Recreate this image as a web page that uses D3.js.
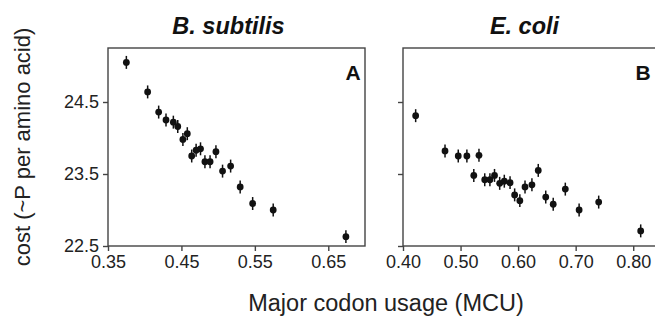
<!DOCTYPE html>
<html>
<head>
<meta charset="utf-8">
<script src="https://cdn.jsdelivr.net/npm/d3@7"></script>
<style>
  body { margin: 0; background: #fff; }
  svg { display: block; font-family: "Liberation Sans", Arial, sans-serif; }
  .axis path, .axis line { stroke: #444; stroke-width: 1.4; }
  .axis text { fill: #222; font-size: 18px; }
  .frame { fill: none; stroke: #444; stroke-width: 1.4; }
</style>
</head>
<body>
<svg id="chart" width="655" height="323"></svg>
<script>
// B. subtilis
const bsuMCU  = [0.375, 0.404, 0.419, 0.429, 0.439, 0.445, 0.452, 0.458, 0.464, 0.470, 0.476, 0.482, 0.489, 0.497, 0.506, 0.517, 0.530, 0.547, 0.575, 0.674];
const bsuCost = [25.05, 24.64, 24.36, 24.25, 24.22, 24.16, 23.98, 24.06, 23.75, 23.83, 23.85, 23.67, 23.67, 23.81, 23.54, 23.61, 23.32, 23.09, 23.00, 22.63];

// E. coli
const ecoMCU  = [0.422, 0.473, 0.496, 0.511, 0.523, 0.532, 0.542, 0.551, 0.559, 0.568, 0.576, 0.586, 0.594, 0.603, 0.612, 0.624, 0.635, 0.648, 0.661, 0.682, 0.706, 0.740, 0.813];
const ecoCost = [24.31, 23.82, 23.75, 23.75, 23.48, 23.76, 23.42, 23.42, 23.48, 23.37, 23.40, 23.38, 23.21, 23.13, 23.32, 23.35, 23.55, 23.18, 23.08, 23.29, 23.00, 23.11, 22.71];

const errHalf = 0.09;   // error bar half-length (cost units)

const yTicks  = [22.5, 23.5, 24.5];
const xTicksA = [0.35, 0.45, 0.55, 0.65];
const xTicksB = [0.40, 0.50, 0.60, 0.70, 0.80];

const panels = [
    { title: "B. subtilis", tag: "A", xs: bsuMCU, ys: bsuCost, domain: [0.35, 0.70], range: [108, 365], ticks: xTicksA, labels: true },
    { title: "E. coli",     tag: "B", xs: ecoMCU, ys: ecoCost, domain: [0.40, 0.85], range: [403, 662], ticks: xTicksB, labels: false },
];

const svg = d3.select("#chart");
const plotTop = 48, plotBottom = 246;

const y = d3.scaleLinear().domain([22.5, 25.25]).range([plotBottom, plotTop]);

panels.forEach((p) => {
    const x = d3.scaleLinear().domain(p.domain).range(p.range);
    const g = svg.append("g");

    // frame
    g.append("rect")
        .attr("class", "frame")
        .attr("x", p.range[0])
        .attr("y", plotTop)
        .attr("width", p.range[1] - p.range[0])
        .attr("height", plotBottom - plotTop);

    // axes
    g.append("g")
        .attr("class", "axis")
        .attr("transform", `translate(0,${plotBottom})`)
        .call(d3.axisBottom(x).tickValues(p.ticks).tickFormat(d3.format(".2f")).tickSize(5).tickSizeOuter(0).tickPadding(4));

    const ya = d3.axisLeft(y).tickValues(yTicks).tickFormat(d3.format(".1f")).tickSize(5).tickSizeOuter(0).tickPadding(4);
    if (!p.labels) ya.tickFormat("");
    g.append("g")
        .attr("class", "axis")
        .attr("transform", `translate(${p.range[0]},0)`)
        .call(ya);

    g.selectAll(".axis .domain").remove();

    // points with error bars
    const pts = p.xs.map((v, i) => ({ x: v, y: p.ys[i] }));

    g.selectAll("line.err")
        .data(pts)
        .enter()
        .append("line")
        .attr("class", "err")
        .attr("x1", (d) => x(d.x))
        .attr("x2", (d) => x(d.x))
        .attr("y1", (d) => y(d.y - errHalf))
        .attr("y2", (d) => y(d.y + errHalf))
        .attr("stroke", "#111")
        .attr("stroke-width", 1.5);

    g.selectAll("circle.pt")
        .data(pts)
        .enter()
        .append("circle")
        .attr("class", "pt")
        .attr("cx", (d) => x(d.x))
        .attr("cy", (d) => y(d.y))
        .attr("r", 3.4)
        .attr("fill", "#111");

    // title
    g.append("text")
        .attr("x", (p.range[0] + p.range[1]) / 2 - 8)
        .attr("y", 34)
        .attr("text-anchor", "middle")
        .attr("font-size", 23.5)
        .attr("font-weight", "bold")
        .attr("font-style", "italic")
        .attr("fill", "#111")
        .text(p.title);

    // panel tag
    g.append("text")
        .attr("x", Math.min(p.range[1], 655) - 12)
        .attr("y", 80)
        .attr("text-anchor", "middle")
        .attr("font-size", 21)
        .attr("font-weight", "bold")
        .attr("fill", "#111")
        .text(p.tag);
});

// axis titles
svg.append("text")
    .attr("x", 386)
    .attr("y", 311)
    .attr("text-anchor", "middle")
    .attr("font-size", 23.5)
    .attr("fill", "#222")
    .text("Major codon usage (MCU)");

svg.append("text")
    .attr("transform", `translate(30,${(plotTop + plotBottom) / 2}) rotate(-90)`)
    .attr("text-anchor", "middle")
    .attr("font-size", 22)
    .attr("fill", "#222")
    .text("cost (~P per amino acid)");
</script>
</body>
</html>
